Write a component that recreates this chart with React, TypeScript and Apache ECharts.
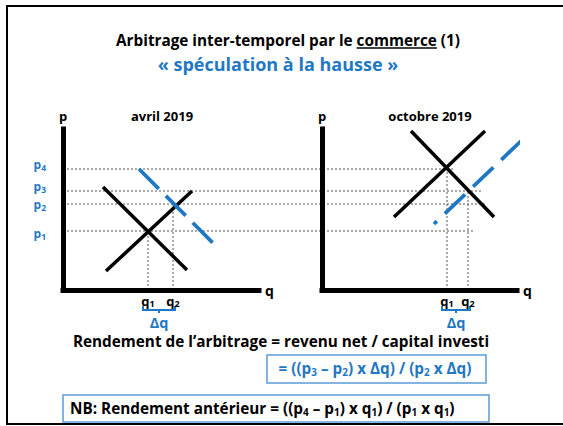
import React, { useEffect, useRef } from 'react';
import * as echarts from 'echarts';

// ---------- data ----------
// price levels shared by both panels (p1..p4), measured up from the q axis
const priceNames = ['p1', 'p2', 'p3', 'p4'];
const priceLevels = [59, 86, 99, 121];
// where each price guide stops, in October-panel q units
const priceGuideEnds = [153, 165, 160, 131];

// April 2019 panel
const aprilQNames = ['q1', 'q2'];
const aprilQ = [85, 110];
const aprilQTops = [59, 86];
const aprilDemand = [[40, 103], [124, 20]];
const aprilSupply = [[43, 19], [129, 99]];
const aprilDemandAnticipated = [[76, 121], [150, 47]];

// October 2019 panel
const octQNames = ['q1', 'q2'];
const octQ = [125, 146];
const octQTops = [121, 99];
const octDemand = [[89, 159], [172, 73]];
const octSupply = [[72, 73], [163, 159]];
const octSupplyShifted = [[112, 66], [199, 149]];

// ---------- style / layout ----------
const FONT = 'Open Sans';
const BLUE = '#1f78c3';
const BOX = '#5b9bd5';
const GRID_TOP = 129;
const GRID_H = 161;
const LEFT_X = 63;
const LEFT_W = 196;
const RIGHT_X = 322;
const RIGHT_W = 195;
// vertical nudge (px) of each price label, p1..p4, as on the slide
const priceLabelNudge = [2, 0, -5, -5];

const pad = (d: number) => [Math.max(0, 2 * d), 0, Math.max(0, -2 * d), 0];

function measure(text: string, font: string) {
  const c = document.createElement('canvas').getContext('2d')!;
  c.font = font;
  return c.measureText(text).width;
}

export default function App() {
  const ref = useRef<HTMLDivElement>(null);
  useEffect(() => {
    const chart = echarts.init(ref.current!, null, { renderer: 'svg' });

    const axisLineStyle = { color: '#000', width: 5, cap: 'square' as const };
    const xAxisBase = (max: number, names: string[], vals: number[]) => ({
      type: 'value',
      min: 0,
      max,
      z: 5,
      splitLine: { show: false },
      axisTick: { show: false },
      axisLine: { show: true, onZero: false, lineStyle: axisLineStyle },
      name: 'q',
      nameLocation: 'end',
      nameGap: 6,
      nameTextStyle: { fontFamily: FONT, fontWeight: 'bold', fontSize: 14, color: '#000', verticalAlign: 'middle' },
      axisLabel: {
        customValues: vals,
        margin: 4,
        formatter: (v: number) => {
          const i = vals.indexOf(v);
          return i >= 0 ? `{m|${names[i][0]}}{s|${names[i].slice(1)}}` : '';
        },
        rich: {
          m: { fontFamily: FONT, fontWeight: 'bold', fontSize: 13, color: '#000' },
          s: { fontFamily: FONT, fontWeight: 'bold', fontSize: 9, color: '#000', padding: pad(2.5) },
        },
      },
    });

    const priceRich: any = {};
    priceLabelNudge.forEach((d, i) => {
      priceRich['m' + i] = { fontFamily: FONT, fontWeight: 'bold', fontSize: 12, color: BLUE, padding: pad(d) };
      priceRich['s' + i] = { fontFamily: FONT, fontWeight: 'bold', fontSize: 8.5, color: BLUE, padding: pad(d + 3.5) };
    });

    const yAxisBase = (withLabels: boolean) => ({
      type: 'value',
      min: 0,
      max: GRID_H,
      z: 5,
      splitLine: { show: false },
      axisTick: { show: false },
      axisLine: { show: true, onZero: false, lineStyle: axisLineStyle },
      name: 'p',
      nameLocation: 'end',
      nameGap: 7,
      nameTextStyle: { fontFamily: FONT, fontWeight: 'bold', fontSize: 13, color: '#000' },
      axisLabel: withLabels
        ? {
            customValues: priceLevels,
            margin: 17,
            formatter: (v: number) => {
              const i = priceLevels.indexOf(v);
              return i >= 0 ? `{m${i}|${priceNames[i][0]}}{s${i}|${priceNames[i].slice(1)}}` : '';
            },
            rich: priceRich,
          }
        : { show: false },
    });

    const line = (data: number[][], idx: number, color: string, width: number, type: any = 'solid', extra: any = {}) => ({
      type: 'line',
      xAxisIndex: idx,
      yAxisIndex: idx,
      data,
      symbol: 'none',
      silent: true,
      lineStyle: { color, width, type, ...extra },
      z: 2,
    });
    const guide = (data: number[][], idx: number) => ({
      ...line(data, idx, '#555', 1, [2, 2]),
      z: 1,
    });

    const bracket = (qs: number[], idx: number) => ({
      type: 'custom',
      xAxisIndex: idx,
      yAxisIndex: idx,
      silent: true,
      clip: false,
      data: [[qs[0], qs[1], 0]],
      encode: { x: [0, 1], y: 2 },
      renderItem: (_p: any, api: any) => {
        const a = api.coord([api.value(0), 0]);
        const b = api.coord([api.value(1), 0]);
        const x1 = a[0] - 5;
        const x2 = b[0] + 2;
        const y = a[1];
        const mid = (x1 + x2) / 2;
        return {
          type: 'group',
          children: [
            {
              type: 'polyline',
              shape: { points: [[x1, y + 16], [x1, y + 20], [x2, y + 20], [x2, y + 16]] },
              style: { stroke: BLUE, lineWidth: 2, fill: 'none' },
            },
            {
              type: 'line',
              shape: { x1: mid, y1: y + 20, x2: mid, y2: y + 23 },
              style: { stroke: BLUE, lineWidth: 2 },
            },
            {
              type: 'text',
              x: mid,
              y: y + 32,
              style: {
                text: 'Δq',
                fill: BLUE,
                fontFamily: FONT,
                fontWeight: 'bold',
                fontSize: 14.5,
                align: 'center',
                verticalAlign: 'middle',
              },
            },
          ],
        };
      },
    });

    const overlayMin = -(RIGHT_X - LEFT_X);

    const series: any[] = [];
    priceLevels.forEach((p, i) => series.push(guide([[overlayMin, p], [priceGuideEnds[i], p]], 2)));
    aprilQ.forEach((q, i) => series.push(guide([[q, 0], [q, aprilQTops[i]]], 0)));
    octQ.forEach((q, i) => series.push(guide([[q, 0], [q, octQTops[i]]], 1)));
    series.push(line(aprilDemand, 0, '#000', 3.5));
    series.push(line(aprilSupply, 0, '#000', 3.5));
    series.push(line(aprilDemandAnticipated, 0, BLUE, 3.8, [28, 10]));
    series.push(line(octDemand, 1, '#000', 3.5));
    series.push(line(octSupply, 1, '#000', 3.5));
    series.push({ ...line(octSupplyShifted, 1, BLUE, 3.8, [28, 11], { dashOffset: 24 }), clip: false });
    series.push(bracket(aprilQ, 0));
    series.push(bracket(octQ, 1));

    // title with underlined word
    const titleSize = 15.3;
    const titleFont = `bold ${titleSize}px "${FONT}"`;
    const titleText = 'Arbitrage inter-temporel par le commerce (1)';
    const prefix = 'Arbitrage inter-temporel par le ';
    const titleCx = 288;
    const tw = measure(titleText, titleFont);
    const ux1 = titleCx - tw / 2 + measure(prefix, titleFont);
    const ux2 = ux1 + measure('commerce', titleFont);

    const txt = (text: string, x: number, y: number, size: number, color: string, align = 'center', rich?: any) => ({
      type: 'text',
      x,
      y,
      silent: true,
      style: {
        text,
        fill: color,
        fontFamily: FONT,
        fontWeight: 'bold',
        fontSize: size,
        align,
        verticalAlign: 'middle',
        rich,
      },
    });
    const richSub = (color: string, size: number) => ({
      s: { fontFamily: FONT, fontWeight: 'bold', fontSize: size, fill: color, color, padding: pad(3.5) },
    });

    const option: any = {
      animation: false,
      backgroundColor: '#fff',
      textStyle: { fontFamily: FONT },
      grid: [
        { left: LEFT_X, top: GRID_TOP, width: LEFT_W, height: GRID_H },
        { left: RIGHT_X, top: GRID_TOP, width: RIGHT_W, height: GRID_H },
        { left: LEFT_X, top: GRID_TOP, width: RIGHT_X + RIGHT_W - LEFT_X, height: GRID_H },
      ],
      xAxis: [
        { ...xAxisBase(LEFT_W, aprilQNames, aprilQ), gridIndex: 0 },
        { ...xAxisBase(RIGHT_W, octQNames, octQ), gridIndex: 1 },
        { type: 'value', gridIndex: 2, min: overlayMin, max: RIGHT_W, show: false },
      ],
      yAxis: [
        { ...yAxisBase(true), gridIndex: 0 },
        { ...yAxisBase(false), gridIndex: 1 },
        { type: 'value', gridIndex: 2, min: 0, max: GRID_H, show: false },
      ],
      series,
      graphic: [
        {
          type: 'polyline',
          silent: true,
          shape: { points: [[563, 6], [7, 6], [7, 424], [563, 424]] },
          style: { stroke: '#000', lineWidth: 2, fill: 'none' },
        },
        txt(titleText, titleCx, 40, titleSize, '#000'),
        {
          type: 'line',
          silent: true,
          shape: { x1: ux1, y1: 48, x2: ux2, y2: 48 },
          style: { stroke: '#000', lineWidth: 1.3 },
        },
        txt('« spéculation à la hausse »', 278, 64, 18, BLUE),
        txt('avril 2019', 162, 116, 13, '#000'),
        txt('octobre 2019', 430, 116, 13, '#000'),
        txt('Rendement de l’arbitrage = revenu net / capital investi', 281, 341, 15.3, '#000'),
        {
          type: 'rect',
          silent: true,
          shape: { x: 267, y: 355, width: 219, height: 28 },
          style: { stroke: BOX, lineWidth: 1.5, fill: 'none' },
        },
        txt('= ((p{s|3} – p{s|2}) x Δq) / (p{s|2} x Δq)', 375, 368, 15.3, BLUE, 'center', richSub(BLUE, 10)),
        {
          type: 'rect',
          silent: true,
          shape: { x: 63, y: 395, width: 426, height: 27 },
          style: { stroke: BOX, lineWidth: 1.5, fill: 'none' },
        },
        txt('NB: Rendement antérieur = ((p{s|4} – p{s|1}) x q{s|1}) / (p{s|1} x q{s|1})', 70, 408, 15.3, '#000', 'left', richSub('#000', 10)),
      ],
    };

    chart.setOption(option);
    return () => chart.dispose();
  }, []);

  return (
    <div
      ref={ref}
      style={{ position: 'fixed', left: 0, top: 0, width: 563, height: 426, background: '#fff' }}
    />
  );
}
